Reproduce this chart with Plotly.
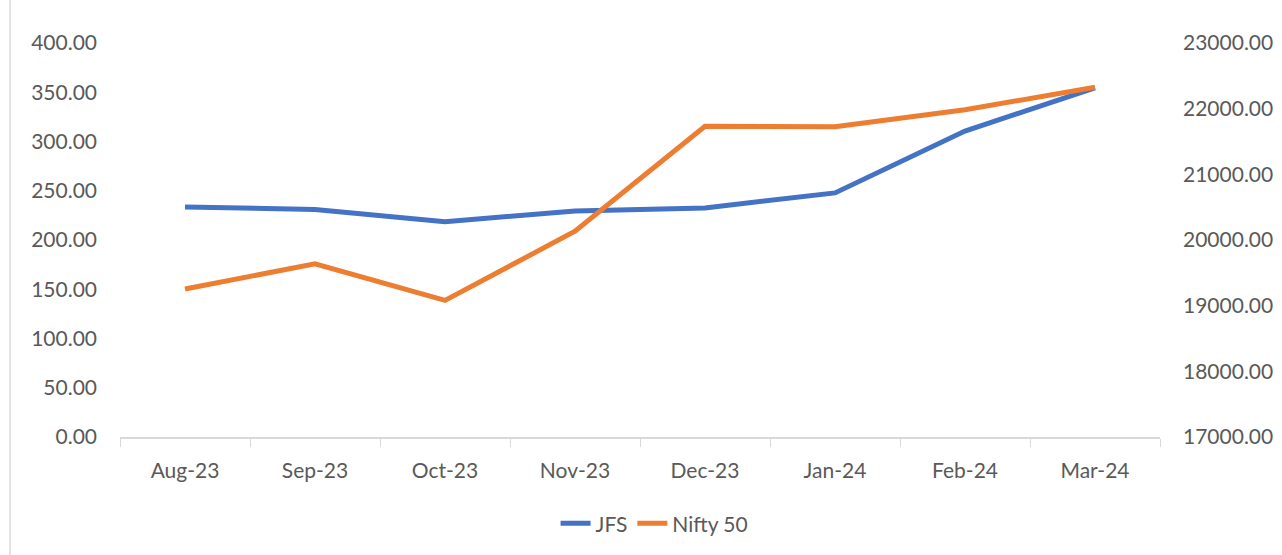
import plotly.graph_objects as go

months = ["Aug-23", "Sep-23", "Oct-23", "Nov-23", "Dec-23", "Jan-24", "Feb-24", "Mar-24"]
jfs = [233.6, 231.0, 218.6, 229.5, 232.6, 247.8, 310.6, 354.4]
nifty50 = [19253.8, 19638.3, 19079.6, 20133.3, 21731.4, 21725.7, 21982.8, 22326.9]

W, H = 1282, 555
ml, mr, mt, mb = 120, 122, 43, 118

fig = go.Figure()
fig.add_trace(go.Scatter(x=months, y=jfs, name="JFS", mode="lines",
                         line=dict(color="#4472C4", width=5), yaxis="y"))
fig.add_trace(go.Scatter(x=months, y=nifty50, name="Nifty 50", mode="lines",
                         line=dict(color="#ED7D31", width=5), yaxis="y2"))

fs = 21
font = dict(family="Lato, Carlito, Calibri, sans-serif", size=fs, color="#595959")

fig.update_layout(
    width=W, height=H,
    margin=dict(l=ml, r=mr, t=mt, b=mb, autoexpand=False),
    paper_bgcolor="white", plot_bgcolor="white",
    font=font,
    showlegend=True,
    legend=dict(orientation="h", x=0.514, xanchor="center", y=-0.22, yanchor="middle",
                font=dict(size=fs, color="#595959")),
    xaxis=dict(type="category", range=[-0.5, len(months) - 0.5], showgrid=False,
               showline=True, linecolor="#D9D9D9",
               linewidth=1.5, ticks="outside", ticklen=8, tickcolor="#D9D9D9",
               tickson="boundaries", tickfont=dict(size=fs, color="#595959"),
               ticklabelstandoff=14),
    yaxis=dict(range=[0, 400], dtick=50, tickformat=".2f", showgrid=False,
               zeroline=False, showline=False, ticks="", ticklabelstandoff=22,
               tickfont=dict(size=fs, color="#595959")),
    yaxis2=dict(range=[17000, 23000], dtick=1000, tickformat=".2f", showgrid=False,
                zeroline=False, showline=False, overlaying="y", side="right",
                ticks="", ticklabelstandoff=22,
                tickfont=dict(size=fs, color="#595959")),
)

pw = W - ml - mr
fig.add_shape(type="line", xref="paper", yref="paper",
              x0=(10 - ml) / pw, x1=(10 - ml) / pw, y0=-2, y1=2,
              line=dict(color="#D9D9D9", width=1.5))

fig.write_html("out.html", config={"displayModeBar": False},
               post_script="document.body.style.margin='0';")
